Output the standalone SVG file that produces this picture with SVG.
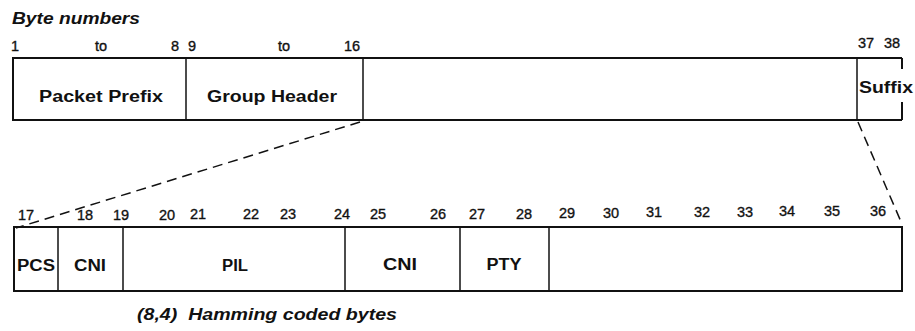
<svg xmlns="http://www.w3.org/2000/svg" width="915" height="331" viewBox="0 0 915 331">
<style>
  text { font-family: "Liberation Sans", Arial, sans-serif; fill: #111; }
  .title { font-size: 16px; font-weight: bold; font-style: italic; }
  .num { font-size: 14.5px; text-anchor: middle; stroke: #111; stroke-width: 0.35; }
  .lbl { font-size: 16px; font-weight: bold; text-anchor: middle; }
  .box { fill: none; stroke: #111; stroke-width: 2; }
  .div { stroke: #111; stroke-width: 1.5; }
  .dash { fill: none; stroke: #111; stroke-width: 1.5; stroke-dasharray: 10 6; }
</style>
<rect x="0" y="0" width="915" height="331" fill="#fff"/>

<text class="title" x="12" y="24" textLength="128" lengthAdjust="spacingAndGlyphs">Byte numbers</text>

<g id="top-numbers">
  <text class="num" x="15" y="51">1</text>
  <text class="num" x="101" y="51">to</text>
  <text class="num" x="175" y="51">8</text>
  <text class="num" x="192" y="51">9</text>
  <text class="num" x="284" y="51">to</text>
  <text class="num" x="352" y="51">16</text>
  <text class="num" x="866" y="48">37</text>
  <text class="num" x="892" y="48">38</text>
</g>

<g id="packet-frame">
  <path class="box" d="M902,58 L13,58 L13,120 L902,120 M902,58 L902,69 M902,102 L902,120"/>
</g>
<g id="packet-prefix">
  <text class="lbl" x="101" y="102" textLength="124" lengthAdjust="spacingAndGlyphs">Packet Prefix</text>
</g>
<g id="group-header">
  <line class="div" x1="186" y1="58" x2="186" y2="120"/>
  <text class="lbl" x="272" y="102" textLength="130" lengthAdjust="spacingAndGlyphs">Group Header</text>
</g>
<g id="data-block">
  <line class="div" x1="363" y1="58" x2="363" y2="120"/>
</g>
<g id="suffix">
  <line class="div" x1="857" y1="58" x2="857" y2="120"/>
  <text class="lbl" x="886" y="93" textLength="54" lengthAdjust="spacingAndGlyphs">Suffix</text>
</g>

<g id="connectors">
  <line class="dash" x1="360" y1="122" x2="16" y2="228"/>
  <line class="dash" x1="858" y1="122" x2="902" y2="224"/>
</g>

<g id="bottom-numbers">
  <text class="num" x="26" y="220">17</text>
  <text class="num" x="85" y="220">18</text>
  <text class="num" x="121" y="220">19</text>
  <text class="num" x="167" y="220">20</text>
  <text class="num" x="198" y="219">21</text>
  <text class="num" x="251" y="219">22</text>
  <text class="num" x="288" y="219">23</text>
  <text class="num" x="342" y="219">24</text>
  <text class="num" x="378" y="219">25</text>
  <text class="num" x="438" y="219">26</text>
  <text class="num" x="477" y="219">27</text>
  <text class="num" x="524" y="219">28</text>
  <text class="num" x="567" y="218">29</text>
  <text class="num" x="611" y="218">30</text>
  <text class="num" x="654" y="217">31</text>
  <text class="num" x="702" y="217">32</text>
  <text class="num" x="745" y="217">33</text>
  <text class="num" x="787" y="216">34</text>
  <text class="num" x="832" y="216">35</text>
  <text class="num" x="878" y="216">36</text>
</g>

<g id="data-frame">
  <rect class="box" x="14" y="227" width="888" height="64"/>
</g>
<g id="pcs">
  <text class="lbl" x="36" y="271" textLength="38" lengthAdjust="spacingAndGlyphs">PCS</text>
</g>
<g id="cni-1">
  <line class="div" x1="58" y1="227" x2="58" y2="291"/>
  <text class="lbl" x="90" y="271" textLength="32" lengthAdjust="spacingAndGlyphs">CNI</text>
</g>
<g id="pil">
  <line class="div" x1="123" y1="227" x2="123" y2="291"/>
  <text class="lbl" x="235" y="271" textLength="26" lengthAdjust="spacingAndGlyphs">PIL</text>
</g>
<g id="cni-2">
  <line class="div" x1="345" y1="227" x2="345" y2="291"/>
  <text class="lbl" x="400" y="270" textLength="34" lengthAdjust="spacingAndGlyphs">CNI</text>
</g>
<g id="pty">
  <line class="div" x1="460" y1="227" x2="460" y2="291"/>
  <text class="lbl" x="504" y="270" textLength="35" lengthAdjust="spacingAndGlyphs">PTY</text>
</g>
<g id="reserved">
  <line class="div" x1="549" y1="227" x2="549" y2="291"/>
</g>

<text class="title" x="137" y="320" textLength="260" lengthAdjust="spacingAndGlyphs" xml:space="preserve">(8,4)  Hamming coded bytes</text>
</svg>
